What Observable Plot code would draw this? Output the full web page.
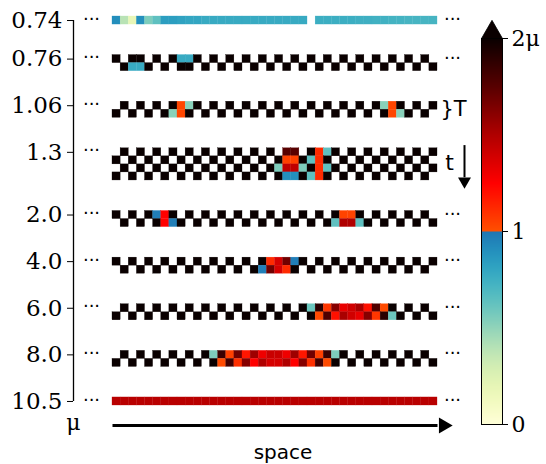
<!DOCTYPE html>
<html><head><meta charset="utf-8">
<script src="https://cdn.jsdelivr.net/npm/d3@7"></script>
<script src="https://cdn.jsdelivr.net/npm/@observablehq/plot@0.6"></script>
<style>
html,body{margin:0;padding:0;background:#fff;}
#chart{position:relative;width:546px;height:464px;}
#chart svg{position:absolute;top:0;}
</style></head><body><div id="chart"></div>
<script>
// Row labels (μ) and, for each μ, the time rows of 40 spatial cells.
// Values are in colour-bar units: 0..1 lower ramp, 1..2 upper ramp (2 = 2μ).
const muLabels = ["0.74","0.76","1.06","1.3","2.0","4.0","6.0","8.0","10.5"];
const rightNotes = ["dots","dots","brace","time","dots","dots","dots","dots","dots"];

const mu074 = [
 [0.91,0.39,0.19,0.90,0.55,0.64,0.84,0.84,0.82,0.80,
  0.80,0.78,0.78,0.78,0.78,0.78,0.78,0.78,0.78,0.78,
  0.78,0.78,0.78,0.78,0,0.76,0.76,0.76,0.76,0.76,
  0.75,0.75,0.74,0.74,0.73,0.73,0.72,0.72,0.72,0.72]
];
const mu076 = [
 [2,0,2,2,0,2,0,2,0.78,0.78, 2,0,2,0,2,0,2,0,2,0, 2,0,2,0,2,0,2,0,2,0, 2,0,2,0,2,0,2,0,2,0],
 [0,2,0.78,0.78,2,0,2,0,2,2, 0,2,0,2,0,2,0,2,0,2, 0,2,0,2,0,2,0,2,0,2, 0,2,0,2,0,2,0,2,0,2]
];
const mu106 = [
 [0,2,0,2,0,2,0,2,1.03,0.52, 2,0,2,0,2,0,2,0,2,0, 2,0,2,0,2,0,2,0,2,0, 2,0,2,0.52,1.03,2,0,2,0,2],
 [2,0,2,0,2,0,2,0.52,1.03,2, 0,2,0,2,0,2,0,2,0,2, 0,2,0,2,0,2,0,2,0,2, 0,2,0,2,1.03,0.52,2,0,2,0]
];
const mu13 = [
 [0,2,0,2,0,2,0,2,0,2, 0,2,0,2,0,2,0,2,0,2, 0,1.75,1.75,0,2,1.12,0.64,2,0,2, 0,2,0,2,0,2,0,2,0,2],
 [2,0,2,0,2,0,2,0,2,0, 2,0,2,0,2,0,2,0,2,0, 2,1.05,1.05,2,0.64,1.12,2,0,2,0, 2,0,2,0,2,0,2,0,2,0],
 [0,2,0,2,0,2,0,2,0,2, 0,2,0,2,0,2,0,2,0,2, 0.55,1.45,1.45,0.55,2,1.12,0.64,2,0,2, 0,2,0,2,0,2,0,2,0,2],
 [2,0,2,0,2,0,2,0,2,0, 2,0,2,0,2,0,2,0,2,0, 2,0.9,0.9,2,0.64,1.12,2,0,2,0, 2,0,2,0,2,0,2,0,2,0]
];
const mu20 = [
 [2,0,2,0,2,0.97,1.25,2,0,2, 0,2,0,2,0,2,0,2,0,2, 0,2,0,2,0,2,0,2,1.04,1.04, 2,0,2,0,2,0,2,0,2,0],
 [0,2,0,2,0,2,1.25,0.97,2,0, 2,0,2,0,2,0,2,0,2,0, 2,0,2,0,2,0,2,0.64,1.5,1.5, 0.64,2,0,2,0,2,0,2,0,2]
];
const mu40 = [
 [2,0,2,0,2,0,2,0,2,0, 2,0,2,0,2,0,2,0,2,1.12, 1.38,1.68,0.97,2,0,2,0,2,0,2, 0,2,0,2,0,2,0,2,0,2],
 [0,2,0,2,0,2,0,2,0,2, 0,2,0,2,0,2,0,2,0.97,1.68, 1.38,1.12,2,0,2,0,2,0,2,0, 2,0,2,0,2,0,2,0,2,0]
];
const mu60 = [
 [0,2,0,2,0,2,0,2,0,2, 0,2,0,2,0,2,0,2,0,2, 0,2,0,2,0.6,1.9,1.08,1.62,1.32,1.4, 1.52,1.2,1.78,1.02,2,0,2,0,2,0],
 [2,0,2,0,2,0,2,0,2,0, 2,0,2,0,2,0,2,0,2,0, 2,0,2,0,2,1.02,1.78,1.2,1.52,1.4, 1.32,1.62,1.08,1.9,0.6,2,0,2,0,2]
];
const mu80 = [
 [0,2,0,2,0,2,0,2,0,2, 0,2,0.55,1.85,1.05,1.68,1.18,1.55,1.3,1.42, 1.42,1.3,1.55,1.18,1.68,1.05,1.85,0.55,2,0, 2,0,2,0,2,0,2,0,2,0],
 [2,0,2,0,2,0,2,0,2,0, 2,0,2,1.02,1.82,1.1,1.62,1.25,1.5,1.38, 1.38,1.5,1.25,1.62,1.1,1.82,1.02,2,0,2, 0,2,0,2,0,2,0,2,0,2]
];
const mu105 = [
 [1.47,1.47,1.47,1.47,1.47,1.47,1.47,1.47,1.47,1.47, 1.47,1.47,1.47,1.47,1.47,1.47,1.47,1.47,1.47,1.47,
  1.47,1.47,1.47,1.47,1.47,1.47,1.47,1.47,1.47,1.47, 1.47,1.47,1.47,1.47,1.47,1.47,1.47,1.47,1.47,1.47]
];
const rowsByMu = [mu074, mu076, mu106, mu13, mu20, mu40, mu60, mu80, mu105];

const colorTicks = [0, 1, 2];
const colorTickLabels = ["0", "1", "2μ"];
const xAxisLabel = "space";
const yAxisLabel = "μ";

// ---- layout (row units) ----
const GAP = 3.8;
let acc = 0;
const groups = muLabels.map((mu, g) => {
  const n = rowsByMu[g].length;
  const gr = {mu, top: acc, n, note: rightNotes[g]};
  acc += n + GAP;
  return gr;
});
const last = groups[groups.length - 1];
const total = last.top + last.n;
const nCells = rowsByMu[0][0].length;

const cells = groups.flatMap((gr, g) =>
  rowsByMu[g].flatMap((row, t) =>
    row.map((v, i) => ({x: i, x2: i + 1, y: gr.top + t, y2: gr.top + t + 1, v}))));

const tickYs = groups.map(g => g.top + 0.5);
const tickLabel = new Map(tickYs.map((y, i) => [y, muLabels[i]]));
const cLabel = new Map(colorTicks.map((v, i) => [v, colorTickLabels[i]]));

// ---- colour map: YlGnBu part below 1, orange-red-black above 1 ----
const upper = d3.piecewise(d3.interpolateRgb, ["#ff5000", "#ff0000", "#b00000", "#580000", "#0a0000"]);
const cmap = t => t <= 0.5 ? d3.interpolateYlGnBu(t * 2 * 0.69) : upper(t * 2 - 1);
const colorOpts = {type: "linear", domain: [0, 2], interpolate: cmap};

const serif = "'DejaVu Serif', 'Liberation Serif', serif", sans = "'DejaVu Sans', sans-serif";

const main = Plot.plot({
  width: 546, height: 464,
  marginLeft: 112, marginRight: 109, marginTop: 16, marginBottom: 59,
  style: {background: "transparent", overflow: "visible", color: "black"},
  x: {domain: [0, nCells], axis: null},
  y: {domain: [0, total], reverse: true},
  color: colorOpts,
  marks: [
    Plot.rect(cells.filter(c => c.v > 0), {x1: "x", x2: "x2", y1: "y", y2: "y2", fill: "v", stroke: "v", strokeWidth: 0.3}),
    Plot.ruleX([0], {y1: tickYs[0], y2: tickYs[tickYs.length - 1], dx: -39, stroke: "black", strokeWidth: 1.3}),
    Plot.axisY(tickYs, {anchor: "left", dx: -39, tickSize: 6, tickPadding: 5, tickFormat: d => tickLabel.get(d),
      fontSize: 23, fontFamily: serif, label: null, stroke: "black", fill: "black"}),
    Plot.text([yAxisLabel], {x: 0, y: total, text: d => d, dx: -39, dy: 17, fontSize: 22, fontFamily: serif}),
    // dots on left
    Plot.text(groups, {x: 0, y: g => g.top + 0.3, text: () => "···", dx: -21, fontSize: 18, fontFamily: sans}),
    // dots on right
    Plot.text(groups.filter(g => g.note === "dots"), {x: nCells, y: g => g.top + 0.35, text: () => "···", dx: 15, fontSize: 18, fontFamily: sans}),
    // period brace
    Plot.text(groups.filter(g => g.note === "brace"), {x: nCells, y: g => g.top + 1, text: () => "}T", textAnchor: "start", dx: 3, fontSize: 21, fontFamily: sans}),
    // time arrow
    Plot.text(groups.filter(g => g.note === "time"), {x: nCells, y: g => g.top + 1.8, text: () => "t", dx: 12, fontSize: 22, fontFamily: sans}),
    Plot.link(groups.filter(g => g.note === "time"), {x1: nCells, x2: nCells, y1: g => g.top - 0.4, y2: g => g.top + 3.6, dx: 27, stroke: "black", strokeWidth: 2}),
    Plot.dot(groups.filter(g => g.note === "time"), {x: nCells, y: g => g.top + 4.1, dx: 27, symbol: "triangle", rotate: 180, r: 4.8, fill: "black", stroke: null}),
    // space arrow
    Plot.link([0], {x1: 0, x2: nCells, y1: total, y2: total, dy: 20, stroke: "black", strokeWidth: 3}),
    Plot.dot([0], {x: nCells, y: total, dx: 6, dy: 20, symbol: "triangle", rotate: 90, r: 5.9, fill: "black", stroke: null}),
    Plot.text([xAxisLabel], {x: nCells / 2, y: total, text: d => d, dx: 8, dy: 47, fontSize: 20, fontFamily: sans})
  ]
});
main.style.left = "0px";

const bar = Plot.plot({
  width: 66, height: 464,
  marginLeft: 1, marginRight: 44, marginTop: 38, marginBottom: 40,
  style: {background: "transparent", overflow: "visible", color: "black"},
  x: {domain: [0, 1], axis: null},
  y: {domain: [0, 2]},
  color: colorOpts,
  marks: [
    Plot.raster({x1: 0, x2: 1, y1: 0, y2: 2, width: 1, height: 386, fill: (x, y) => y, imageRendering: "auto"}),
    Plot.frame({stroke: "black", strokeWidth: 1}),
    Plot.dot([2], {x: 0.5, y: d => d, dy: -6, symbol: "triangle", r: 7.8, fill: d => d, stroke: "black", strokeWidth: 0.8}),
    Plot.axisY(colorTicks, {anchor: "right", tickSize: 5, tickPadding: 4, tickFormat: d => cLabel.get(d),
      fontSize: 22, fontFamily: serif, label: null, stroke: "black", fill: "black"})
  ]
});
bar.style.left = "480px";

const root = document.getElementById("chart");
root.appendChild(main);
root.appendChild(bar);
</script>
</body></html>
